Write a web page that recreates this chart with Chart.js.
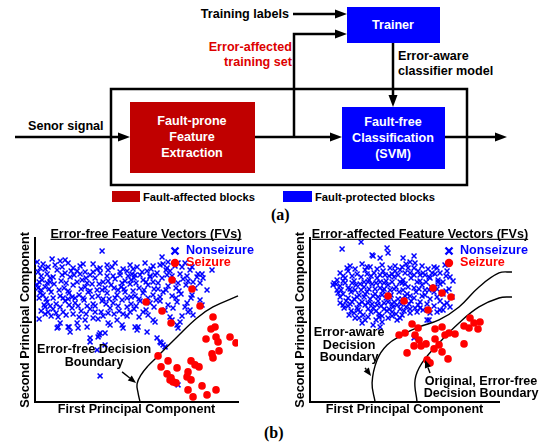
<!DOCTYPE html>
<html>
<head>
<meta charset="utf-8">
<script src="https://cdn.jsdelivr.net/npm/chart.js@4.4.1/dist/chart.umd.min.js"></script>
<style>
  body { margin: 0; background: #fff; }
  #page { position: relative; width: 544px; height: 443px; overflow: hidden; background: #fff; }
  #diagram { position: absolute; left: 0; top: 0; }
  .panel { position: absolute; top: 220px; width: 272px; height: 200px; }
  .cap { position: absolute; font: bold 16px "Liberation Serif", "Times New Roman", serif; color: #000; }
</style>
</head>
<body>
<div id="page">
  <svg id="diagram" width="544" height="225" font-family="Liberation Sans, Arial, sans-serif" font-weight="bold" font-size="12.6">
    <!-- feedback / training path -->
    <g stroke="#000" stroke-width="2.5" fill="none">
      <line x1="293" y1="14" x2="336" y2="14"/>
      <polyline points="294,137 294,34 336,34"/>
      <line x1="393" y1="43" x2="393" y2="96"/>
      <line x1="15" y1="137" x2="119" y2="137"/>
      <line x1="255" y1="137" x2="331" y2="137"/>
      <line x1="445" y1="137" x2="496" y2="137"/>
      <rect x="111" y="89" width="356" height="96"/>
    </g>
    <g fill="#000">
      <polygon points="347,14 335,9.5 335,18.5"/>
      <polygon points="347,34 335,29.5 335,38.5"/>
      <polygon points="393,107 388.5,95 397.5,95"/>
      <polygon points="130,137 118,132.5 118,141.5"/>
      <polygon points="342,137 330,132.5 330,141.5"/>
      <polygon points="507,137 495,132.5 495,141.5"/>
    </g>
    <rect x="347" y="7" width="93" height="36" fill="#0000ff"/>
    <rect x="130" y="102" width="125" height="71" fill="#c00000"/>
    <rect x="342" y="107" width="103" height="62" fill="#0000ff"/>
    <g dominant-baseline="central">
      <text x="289" y="14" text-anchor="end">Training labels</text>
      <text x="393" y="25" text-anchor="middle" fill="#fff">Trainer</text>
      <text x="292" y="47" text-anchor="end" fill="#dd0000">Error-affected</text>
      <text x="292" y="62" text-anchor="end" fill="#dd0000">training set</text>
      <text x="398" y="56">Error-aware</text>
      <text x="398" y="71">classifier model</text>
      <text x="28" y="126">Senor signal</text>
      <g text-anchor="middle" fill="#fff">
        <text x="192" y="121">Fault-prone</text>
        <text x="192" y="137">Feature</text>
        <text x="192" y="153">Extraction</text>
        <text x="393" y="122">Fault-free</text>
        <text x="393" y="138">Classification</text>
        <text x="393" y="154">(SVM)</text>
      </g>
    </g>
    <rect x="112" y="191" width="28" height="11" fill="#c00000"/>
    <rect x="283" y="191" width="29" height="11" fill="#0000ff"/>
    <g dominant-baseline="central" font-size="11.2">
      <text x="143" y="196.5">Fault-affected blocks</text>
      <text x="315" y="196.5">Fault-protected blocks</text>
    </g>
  </svg>
  <div class="cap" style="left:271px; top:206px;">(a)</div>
  <div class="panel" style="left:0;"><canvas id="leftChart" width="272" height="200"></canvas></div>
  <div class="panel" style="left:272px;"><canvas id="rightChart" width="272" height="200"></canvas></div>
  <div class="cap" style="left:264px; top:424px;">(b)</div>
</div>
<script>
// principal component scores (arbitrary units)
const leftNonseizure = [
  [67,151],[17,143],[25,141],[30,142],[2,140],[5,134],[13,135],[27,135],[38,134],[50,130],[58,130],[72,137],
  [73,132],[85,130],[92,131],[100,127],[3,114],[5,109],[10,95],[13,90],[23,85],[25,79],[22,74],[33,75],
  [35,70],[42,79],[43,74],[50,82],[52,75],[58,84],[63,83],[65,69],[70,69],[73,79],[75,77],[82,82],
  [87,77],[88,74],[92,86],[95,90],[100,75],[4,83],[55,64],[64,67],[62,52],[70,57],[65,26],
  [122,64],[125,60],[128,57],[130,55],[113,87],[118,82],[120,80],[135,85],[137,82],[142,77],[143,74],
  [147,86],[145,80],[153,90],[158,87],[167,97],[172,112],[177,132],[162,125],[165,119],[127,145],[133,140],
  [132,134],[125,137],[102,135],[107,130],[115,125],[157,107],[152,99],[143,17],[103,75],[112,70],[102,72],
  [55,60],[63,65],[34,75],[23,75],[126,59],[165,102],[155,92],
  [8,138],[20,137],[33,139],[45,136],[58,138],[80,139],[95,137],[110,139],[118,136],[128,138],[140,136],[150,139],
  [3,130],[12,128],[22,132],[30,129],[42,131],[55,127],[65,129],[78,126],[88,133],[97,128],[112,131],[122,129],
  [135,131],[145,128],[155,132],[163,128],
  [7,122],[15,124],[26,121],[35,125],[47,122],[60,124],[68,120],[80,123],[90,121],[99,124],[108,122],[118,120],
  [127,124],[138,121],[148,123],[158,120],[168,124],
  [2,117],[10,115],[19,118],[29,114],[38,117],[50,115],[57,118],[70,114],[76,117],[86,115],[95,118],[104,114],
  [113,117],[123,113],[133,116],[141,114],[151,117],[160,114],
  [8,107],[16,110],[25,106],[34,109],[44,107],[53,110],[63,106],[72,109],[82,107],[90,110],[100,106],[108,109],
  [118,107],[128,110],[137,106],[146,108],[156,104],
  [12,100],[21,98],[30,101],[40,99],[49,102],[58,98],[67,101],[78,99],[87,102],[96,98],[105,101],[115,99],
  [125,101],[133,97],[142,100],
  [6,91],[18,93],[28,90],[37,94],[46,91],[55,93],[66,90],[75,94],[84,91],[99,93],[108,90],[130,92],
  [16,86],[31,87],[44,85],[68,86],[79,88],[104,85],
  [15,120],[24,112],[40,104],[52,119],[62,112],[74,103],[85,127],[92,104],[101,119],[45,128],[65,134],[83,112],
  [115,126],[125,105],[137,126],[147,135],[150,95],[60,96],[33,103],[18,104],
  [10,133],[36,131],[48,138],[62,133],[77,135],[98,133],[116,133],[131,132],[143,139],[157,135],
  [6,126],[18,125],[27,127],[39,127],[51,124],[72,126],[93,126],[105,127],[120,127],[132,127],[152,126],[167,128],
  [4,120],[12,119],[31,119],[42,120],[64,118],[73,121],[87,119],[96,122],[111,120],[123,119],[143,119],[153,121],
  [6,112],[14,113],[33,111],[46,113],[55,111],[67,112],[79,114],[89,113],[98,111],[109,112],[119,113],[131,112],[144,111],
  [4,104],[11,103],[28,104],[37,105],[48,104],[57,105],[68,103],[80,104],[96,105],[104,103],[113,104],[121,102],[141,104],
  [9,97],[15,96],[25,95],[34,97],[43,96],[52,96],[71,98],[83,96],[92,95],[101,96],[119,95],[138,94],
  [10,88],[21,89],[38,88],[51,88],[60,90],[73,89],[88,88],[111,92]
];
const leftSeizure = [
  [137,122],[157,113],[111,100],[127,91],[136,79],[165,96],[178,85],[180,75],[176,73],[171,63],[181,65],[183,60],
  [195,65],[201,59],[177,48],[184,51],[178,44],[123,46],[133,41],[126,35],[142,34],[156,41],[160,37],[164,35],
  [153,30],[152,25],[132,28],[136,24],[138,20],[141,19],[135,22],[156,22],[153,12],[167,16],[181,12],[158,5],[172,7]
];
const leftBoundary = [[105,0],[103,9],[102,18],[106,27],[113,36],[122,45],[142,65],[162,84],[178,95],[203,106]];

const rightNonseizure = [
  [32,153],[51,160],[63,146],[70,144],[77,154],[78,149],[93,144],[100,140],[98,134],[127,134],[120,124],[23,117],
  [28,109],[30,99],[37,134],[45,84],[52,79],[63,77],[70,75],[72,80],[78,84],[87,82],[92,87],[100,89],
  [107,90],[113,129],[122,129],[130,129],[128,120],[142,105],[137,99],[133,92],[127,90],[120,89],[117,82],[113,92],
  [140,95],[62,147],[104,146],[105,139],[24,119],[27,112],[34,94],[39,87],[55,82],[69,85],[104,64],[119,82],
  [134,97],[130,92],
  [40,136],[52,138],[60,135],[72,137],[85,136],[96,138],[112,136],[135,137],
  [30,129],[38,131],[47,128],[55,132],[64,129],[73,131],[82,128],[90,132],[100,129],[108,131],[118,133],[137,131],
  [27,122],[35,124],[44,121],[51,125],[59,122],[67,124],[76,121],[84,125],[93,122],[101,124],[110,121],[119,125],
  [128,122],[136,126],[143,121],
  [30,116],[38,114],[46,117],[54,115],[62,118],[70,114],[78,117],[86,115],[95,118],[104,114],[112,117],[121,115],
  [130,118],[139,113],
  [33,108],[41,110],[49,107],[57,110],[65,108],[73,111],[81,107],[89,110],[97,108],[106,110],[115,107],[124,110],
  [133,108],
  [36,101],[44,103],[52,100],[60,103],[68,101],[76,104],[84,100],[92,103],[101,101],[110,100],[120,103],[130,101],
  [38,96],[47,94],[55,97],[63,94],[71,96],[79,93],[87,97],[96,95],[105,94],[124,96],
  [44,89],[53,87],[61,90],[69,88],[77,91],[86,88],[94,91],
  [45,112],[58,120],[68,105],[80,112],[90,120],[62,98],[50,118],[75,127],[42,100],[88,103],[98,115],[110,127],
  [55,108],[70,120],[83,95],[35,119],[65,113],[78,100],[100,106],[115,112],[48,92],[72,86],[95,129],[125,115],
  [57,128],[85,131],
  [45,133],[57,135],[67,133],[80,134],[92,135],[104,134],[124,135],
  [33,126],[42,126],[61,126],[70,127],[79,126],[88,127],[104,127],[115,127],[125,128],[140,125],
  [26,118],[33,121],[42,119],[54,120],[66,119],[74,119],[82,120],[92,119],[107,120],[116,120],[133,120],
  [31,112],[40,113],[51,112],[59,113],[74,113],[84,113],[93,112],[109,113],[119,112],[127,113],[136,111],
  [30,105],[38,104],[47,105],[54,105],[63,106],[72,107],[80,105],[95,106],[104,104],[112,106],[127,105],
  [33,97],[40,98],[49,98],[58,99],[67,97],[74,99],[82,98],[91,98],[99,98],[108,97],[117,98],
  [41,91],[50,90],[58,93],[66,91],[74,93],[82,90],[90,93],[100,93],[110,94],
  [49,84],[58,85],[66,82],[82,86],[90,84]
];
const rightSeizure = [
  [78,106],[94,101],[123,114],[132,109],[141,105],[118,92],[160,84],[170,80],[164,79],[168,73],[154,76],[159,74],
  [102,78],[108,74],[89,67],[95,69],[105,67],[109,62],[125,73],[132,75],[139,69],[145,68],[135,67],[125,63],
  [116,58],[111,56],[104,56],[129,57],[154,58],[124,53],[97,49],[138,43],[117,42],[120,39],[132,50]
];
const rightAwareBoundary = [[65,0],[62,19],[67,42],[77,57],[92,67],[109,75],[129,82],[149,95],[169,115],[189,129],[202,130]];
const rightOriginalBoundary = [[107,0],[105,22],[112,39],[129,59],[149,79],[169,95],[189,104],[202,105]];

const FONT = '"Liberation Sans", Arial, Helvetica, sans-serif';
const BLUE = '#0000ff';
const RED = '#ff0000';

const toXY = (arr) => arr.map(([x, y]) => ({ x, y }));

function drawArrow(ctx, x1, y1, x2, y2) {
  const ang = Math.atan2(y2 - y1, x2 - x1);
  const len = 8, half = 3.2;
  const bx = x2 - Math.cos(ang) * len, by = y2 - Math.sin(ang) * len;
  ctx.beginPath();
  ctx.moveTo(x1, y1);
  ctx.lineTo(bx, by);
  ctx.stroke();
  ctx.beginPath();
  ctx.moveTo(x2, y2);
  ctx.lineTo(bx - Math.sin(ang) * half, by + Math.cos(ang) * half);
  ctx.lineTo(bx + Math.sin(ang) * half, by - Math.cos(ang) * half);
  ctx.closePath();
  ctx.fill();
}

// title, legend and boundary notes of each panel
const panelDeco = {
  id: 'panelDeco',
  afterDraw(chart, args, opts) {
    const ctx = chart.ctx;
    const xs = chart.scales.x, ys = chart.scales.y;
    ctx.save();
    ctx.font = 'bold 12.6px ' + FONT;
    ctx.textBaseline = 'alphabetic';
    ctx.textAlign = 'center';
    ctx.fillStyle = '#000';
    ctx.fillText(opts.title, opts.titleX, 17.5);
    const w = ctx.measureText(opts.title).width;
    ctx.fillRect(opts.titleX - w / 2, 18.8, w, 1.1);

    // legend
    const lx = opts.legendX;
    ctx.strokeStyle = BLUE;
    ctx.lineWidth = 2.4;
    ctx.beginPath();
    ctx.moveTo(lx - 3.5, 27.5); ctx.lineTo(lx + 3.5, 34.5);
    ctx.moveTo(lx + 3.5, 27.5); ctx.lineTo(lx - 3.5, 34.5);
    ctx.stroke();
    ctx.fillStyle = RED;
    ctx.beginPath();
    ctx.arc(lx, 43, 4.2, 0, Math.PI * 2);
    ctx.fill();
    ctx.textAlign = 'left';
    ctx.textBaseline = 'middle';
    ctx.fillStyle = BLUE;
    ctx.fillText('Nonseizure', lx + 11, 31);
    ctx.fillStyle = RED;
    ctx.fillText('Seizure', lx + 11, 43);

    // notes
    ctx.fillStyle = '#000';
    ctx.strokeStyle = '#000';
    ctx.lineWidth = 1.4;
    ctx.textAlign = 'center';
    opts.notes.forEach((n) => {
      n.lines.forEach((t, i) => {
        ctx.fillText(t, xs.getPixelForValue(n.x), ys.getPixelForValue(n.y) + i * n.gap);
      });
      drawArrow(ctx,
        xs.getPixelForValue(n.from[0]), ys.getPixelForValue(n.from[1]),
        xs.getPixelForValue(n.to[0]), ys.getPixelForValue(n.to[1]));
    });
    ctx.restore();
  }
};

function axis(max, text, pad) {
  return {
    type: 'linear', min: 0, max: max,
    grid: { display: false, drawTicks: false },
    ticks: { display: false },
    border: { display: true, color: '#000', width: 2 },
    title: { display: true, text: text, color: '#000', font: { family: FONT, size: 12.6, weight: 'bold' }, padding: pad }
  };
}

function makePanel(id, cfg) {
  const datasets = [
    { data: toXY(cfg.seizure), pointStyle: 'circle', pointRadius: 3.8, backgroundColor: RED, borderWidth: 0, order: 1 },
    { data: toXY(cfg.nonseizure), pointStyle: 'crossRot', pointRadius: 3.5, borderColor: BLUE, backgroundColor: BLUE, borderWidth: 1.5, order: 3 }
  ];
  cfg.boundaries.forEach((b) => {
    datasets.push({ data: toXY(b), showLine: true, pointRadius: 0, borderColor: '#000', borderWidth: 1.4, tension: 0.4, fill: false, clip: false, order: 2 });
  });
  new Chart(document.getElementById(id), {
    type: 'scatter',
    data: { datasets: datasets },
    options: {
      responsive: false,
      animation: false,
      events: [],
      layout: { padding: cfg.padding },
      scales: {
        x: axis(cfg.xMax, 'First Principal Component', { top: 0, bottom: 2 }),
        y: axis(164, 'Second Principal Component', { top: 4, bottom: 2 })
      },
      plugins: {
        legend: { display: false },
        tooltip: { enabled: false },
        panelDeco: cfg.deco
      }
    },
    plugins: [panelDeco]
  });
}

makePanel('leftChart', {
  nonseizure: leftNonseizure,
  seizure: leftSeizure,
  boundaries: [leftBoundary],
  xMax: 203,
  padding: { left: 14, right: 34, top: 18, bottom: 1 },
  deco: {
    title: 'Error-free Feature Vectors (FVs)', titleX: 146, legendX: 175,
    notes: [
      { lines: ['Error-free Decision', 'Boundary'], x: 59, y: 52, gap: 13, from: [87, 30], to: [101, 19] }
    ]
  }
});

makePanel('rightChart', {
  nonseizure: rightNonseizure,
  seizure: rightSeizure,
  boundaries: [rightAwareBoundary, rightOriginalBoundary],
  xMax: 189,
  padding: { left: 17, right: 45, top: 18, bottom: 1 },
  deco: {
    title: 'Error-affected Feature Vectors (FVs)', titleX: 148, legendX: 177,
    notes: [
      { lines: ['Error-aware', 'Decision', 'Boundary'], x: 39, y: 69, gap: 12.5, from: [55, 34], to: [61, 26] },
      { lines: ['Original, Error-free', 'Decision Boundary'], x: 171, y: 20, gap: 11.5, from: [120, 29], to: [115, 42] }
    ]
  }
});
</script>
</body>
</html>
